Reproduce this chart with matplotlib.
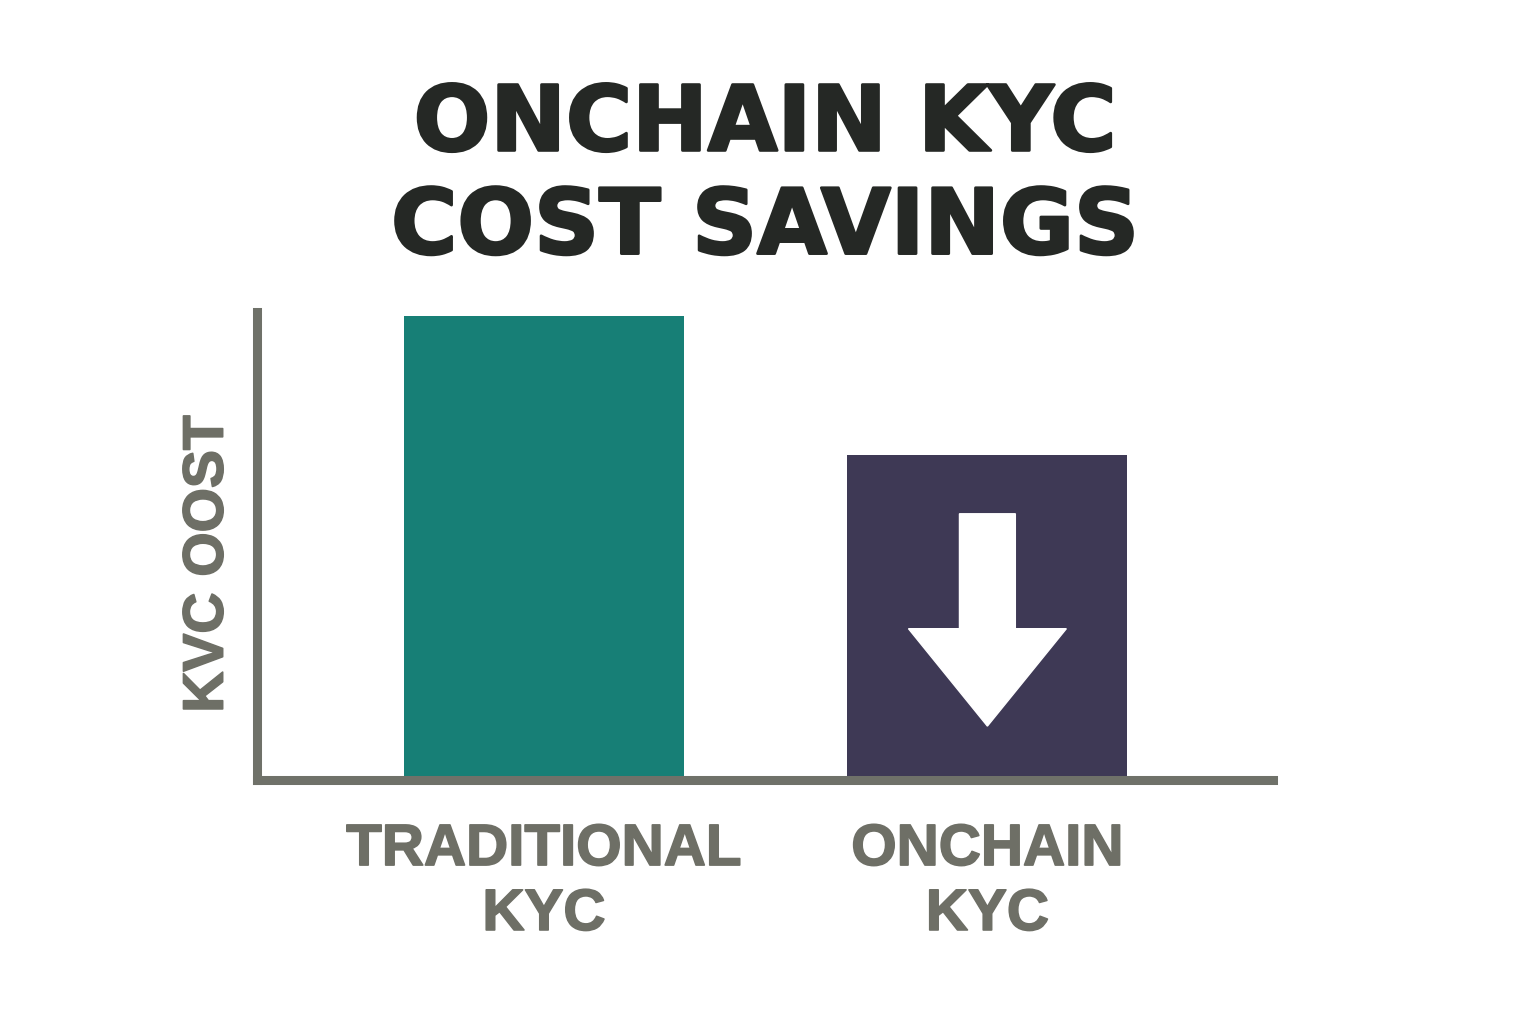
import matplotlib
matplotlib.use('Agg')
import matplotlib.pyplot as plt
import matplotlib.patheffects as pe

# Chart data
categories = ['TRADITIONAL\nKYC', 'ONCHAIN\nKYC']
costs = [100, 70]
bar_colors = ['#177f76', '#3e3955']
title_lines = 'ONCHAIN KYC\nCOST SAVINGS'
y_label = 'KVC OOST'

AXIS_GREY = '#6f7169'
TEXT_GREY = '#6e6f66'
TITLE_DARK = '#252825'

plt.rcParams['font.family'] = ['Liberation Sans', 'DejaVu Sans']

fig = plt.figure(figsize=(15.36, 10.24), dpi=100)
fig.patch.set_facecolor('white')

# axes box placed to match the reference spines (pixel positions / fig size)
ax = fig.add_axes([257 / 1536, 1 - 780 / 1024, (1273 - 257) / 1536, (780 - 312) / 1024])

x_pos = list(range(len(categories)))
bars = ax.bar(x_pos, costs, width=0.631, color=bar_colors, zorder=2)

ax.set_xlim(-0.647, 1.644)
ax.set_ylim(0, 100.9)

for side in ['top', 'right']:
    ax.spines[side].set_visible(False)
for side in ['left', 'bottom']:
    ax.spines[side].set_color(AXIS_GREY)
    ax.spines[side].set_linewidth(6.5)
    ax.spines[side].set_zorder(3)
ax.spines['left'].set_capstyle('projecting')

ax.set_yticks([])
ax.set_xticks(x_pos)
ax.set_xticklabels(categories, fontsize=42, fontweight='bold', color=TEXT_GREY,
                   linespacing=1.26)
ax.tick_params(axis='x', length=0, pad=31)
for lbl in ax.get_xticklabels():
    lbl.set_path_effects([pe.withStroke(linewidth=1.2, foreground=TEXT_GREY)])

# white "down" arrow inside the onchain bar, scaled to the bar height
v = costs[1]
arrow_top = 0.82 * v
arrow_tip = 0.166 * v
ax.arrow(x_pos[1], arrow_top, 0, arrow_tip - arrow_top, width=0.126,
         head_width=0.356, head_length=0.30 * v, length_includes_head=True,
         color='white', zorder=4)

ax.set_ylabel(y_label, fontsize=41, fontweight='bold', color=TEXT_GREY)
ax.yaxis.set_label_coords(-0.022, 0.462)
ax.yaxis.label.set_path_effects([pe.withStroke(linewidth=1.2, foreground=TEXT_GREY)])

fig.text(765 / 1536, 1 - 177 / 1024, title_lines, ha='center', va='center',
         fontsize=65, fontweight='bold', color=TITLE_DARK, linespacing=1.22,
         family=['DejaVu Sans'],
         path_effects=[pe.withStroke(linewidth=2, foreground=TITLE_DARK)])

fig.savefig('out.png', dpi=100, facecolor='white')
